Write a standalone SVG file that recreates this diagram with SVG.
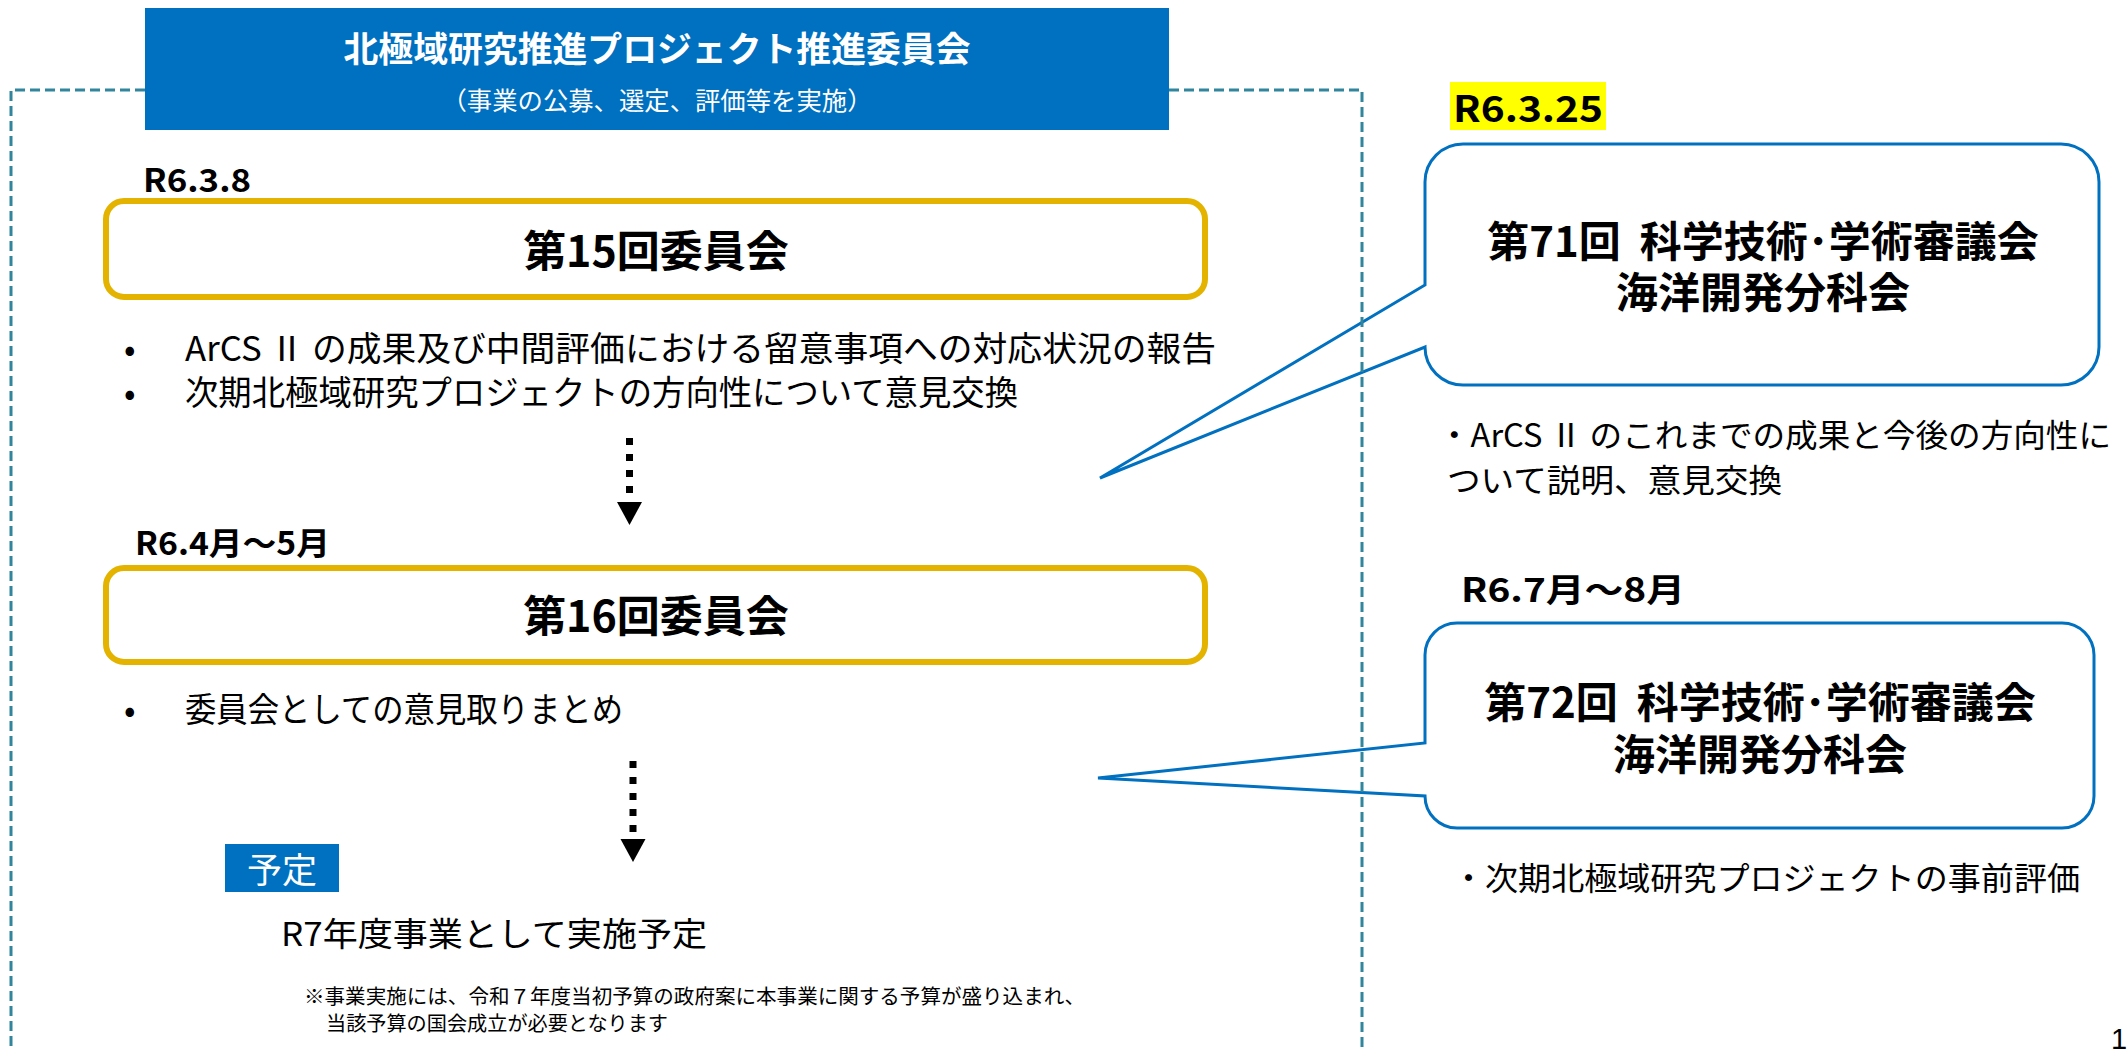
<svg xmlns="http://www.w3.org/2000/svg" width="2127" height="1051" viewBox="0 0 2127 1051">
<defs>
<style>
text{font-family:"Noto Sans CJK JP","Noto Sans",sans-serif;fill:#000}
.b{font-weight:bold}
.w{fill:#fff}
.gold{fill:#fff;stroke:#E3B300;stroke-width:6}
.balloon{fill:#fff;stroke:#0070C0;stroke-width:3}
.frame{fill:none;stroke:#31859C;stroke-width:3;stroke-dasharray:10 5}
.dots{stroke:#000;stroke-width:7;stroke-dasharray:7 9;fill:none}
</style>
<marker id="ah" markerUnits="userSpaceOnUse" markerWidth="24" markerHeight="26" refX="0" refY="12.5" orient="auto" viewBox="0 0 24 26">
<path d="M0,0 L23,12.5 L0,25 Z" fill="#000"/>
</marker>
</defs>
<rect width="2127" height="1051" fill="#fff"/>

<g id="balloon71">
<path class="balloon" d="M1463 144 H2061 A38 38 0 0 1 2099 182 V347 A38 38 0 0 1 2061 385 H1463 A38 38 0 0 1 1425 347 L1100 478 L1425 285 V182 A38 38 0 0 1 1463 144 Z"/>
<text class="b" font-size="42" text-anchor="middle"><tspan x="1763" y="257">第71回<tspan dx="19">科学技術･学術審議会</tspan></tspan><tspan x="1763" y="308">海洋開発分科会</tspan></text>
</g>
<g id="balloon72">
<path class="balloon" d="M1457 623 H2062 A32 32 0 0 1 2094 655 V796 A32 32 0 0 1 2062 828 H1457 A32 32 0 0 1 1425 796 L1098 778 L1425 743 V655 A32 32 0 0 1 1457 623 Z"/>
<text class="b" font-size="42" text-anchor="middle"><tspan x="1760" y="718">第72回<tspan dx="19">科学技術･学術審議会</tspan></tspan><tspan x="1760" y="770">海洋開発分科会</tspan></text>
</g>

<g id="frame">
<path class="frame" d="M145 90 H11 V1060 M1169 90 H1362 V1060"/>
</g>

<g id="header">
<rect x="145" y="8" width="1024" height="122" fill="#0070C0"/>
<text class="b w" x="657" y="62" font-size="35" text-anchor="middle" textLength="627" lengthAdjust="spacingAndGlyphs">北極域研究推進プロジェクト推進委員会</text>
<text class="w" x="657" y="110" font-size="25" text-anchor="middle" textLength="431" lengthAdjust="spacingAndGlyphs">（事業の公募、選定、評価等を実施）</text>
</g>

<g id="meeting15">
<text class="b" x="143" y="192" font-size="32" textLength="108" lengthAdjust="spacingAndGlyphs">R6.3.8</text>
<rect class="gold" x="106" y="201" width="1099" height="96" rx="18"/>
<text class="b" x="656" y="267" font-size="43" text-anchor="middle">第15回委員会</text>
<text font-size="34"><tspan x="124" y="361">•</tspan><tspan x="185" y="361" textLength="1031" lengthAdjust="spacingAndGlyphs">ArCS Ⅱ の成果及び中間評価における留意事項への対応状況の報告</tspan><tspan x="124" y="405">•</tspan><tspan x="185" y="405" textLength="833" lengthAdjust="spacingAndGlyphs">次期北極域研究プロジェクトの方向性について意見交換</tspan></text>
</g>

<g id="meeting16">
<text class="b" x="135" y="555" font-size="32" textLength="195" lengthAdjust="spacingAndGlyphs">R6.4月～5月</text>
<rect class="gold" x="106" y="568" width="1099" height="94" rx="18"/>
<text class="b" x="656" y="632" font-size="43" text-anchor="middle">第16回委員会</text>
<text font-size="34"><tspan x="124" y="722">•</tspan><tspan x="185" y="722" textLength="438" lengthAdjust="spacingAndGlyphs">委員会としての意見取りまとめ</tspan></text>
</g>

<g id="plan">
<rect x="225" y="844" width="114" height="48" fill="#0070C0"/>
<text class="w" x="282" y="883" font-size="35" text-anchor="middle">予定</text>
<text x="281" y="946" font-size="33" textLength="426" lengthAdjust="spacingAndGlyphs">R7年度事業として実施予定</text>
<text font-size="20"><tspan x="304" y="1004" textLength="781" lengthAdjust="spacingAndGlyphs">※事業実施には、令和７年度当初予算の政府案に本事業に関する予算が盛り込まれ、</tspan><tspan x="326" y="1031" textLength="342" lengthAdjust="spacingAndGlyphs">当該予算の国会成立が必要となります</tspan></text>
</g>

<g id="date71">
<rect x="1450" y="82" width="156" height="48" fill="#FFFF00"/>
<text class="b" x="1453" y="122" font-size="36" textLength="150" lengthAdjust="spacingAndGlyphs">R6.3.25</text>
</g>
<g id="desc71">
<text font-size="32"><tspan x="1438" y="447" textLength="673" lengthAdjust="spacingAndGlyphs">・ArCS Ⅱ のこれまでの成果と今後の方向性に</tspan><tspan x="1447" y="492" textLength="335" lengthAdjust="spacingAndGlyphs">ついて説明、意見交換</tspan></text>
</g>
<g id="date72">
<text class="b" x="1461" y="602" font-size="33" textLength="224" lengthAdjust="spacingAndGlyphs">R6.7月～8月</text>
</g>
<g id="desc72">
<text x="1452" y="890" font-size="32" textLength="628" lengthAdjust="spacingAndGlyphs">・次期北極域研究プロジェクトの事前評価</text>
</g>

<g id="connectors">
<line class="dots" x1="629.5" y1="438" x2="629.5" y2="502" marker-end="url(#ah)"/>
<line class="dots" x1="633" y1="761" x2="633" y2="839" marker-end="url(#ah)"/>
</g>

<g id="pagenum">
<text x="2111" y="1049" font-size="29" style="font-family:'Liberation Sans',sans-serif">1</text>
</g>
</svg>
